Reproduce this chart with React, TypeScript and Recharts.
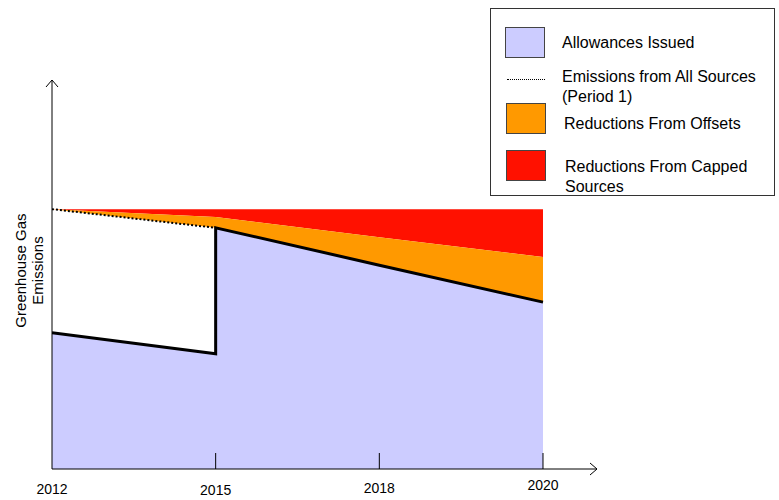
import React from 'react';
import { ComposedChart, Area, Line, XAxis, YAxis, ReferenceDot, Legend } from 'recharts';

// ---- data ----
const tickYears = ['2012', '2015', '2018', '2020'];
const tickPositions = [0, 1, 2, 3];
const rowPositions = [0, 1, 1, 2, 3]; // 2015 appears twice: the allowance cap jumps there
const allowancesIssued = [35.0, 29.6, 62.0, 52.4, 42.9];
const emissionsPeriod1: (number | null)[] = [66.8, 62.0, null, null, null];
const offsetsTop = [66.8, 64.8, 64.8, 59.6, 54.5];
const cappedTop = [66.8, 66.8, 66.8, 66.8, 66.8];

const data = rowPositions.map((x, i) => {
  const lower = emissionsPeriod1[i] ?? allowancesIssued[i];
  return {
    x,
    allowances: allowancesIssued[i],
    emissions: emissionsPeriod1[i],
    offsets: [lower, offsetsTop[i]],
    capped: [offsetsTop[i], cappedTop[i]],
  };
});

const FONT = '"Liberation Sans", Arial, Helvetica, sans-serif';
const LAVENDER = '#CCCCFF';
const ORANGE = '#FF9900';
const RED = '#FF1100';

const labelShift = [0, 1, -1.5, -4.5];

const XTick = (props: any) => {
  const { x, y, payload } = props;
  const i = tickPositions.indexOf(payload.value);
  return (
    <g>
      {payload.value !== 0 && (
        <line x1={x} x2={x} y1={y - 16} y2={y} stroke="#000" strokeWidth={1} />
      )}
      <text
        x={x}
        y={y + 25 + (labelShift[i] ?? 0)}
        textAnchor="middle"
        fontSize={14}
        fontFamily={FONT}
        fill="#000"
      >
        {tickYears[i] ?? ''}
      </text>
    </g>
  );
};

const YTitle = (props: any) => {
  const vb = props.viewBox || { x: 51, y: 80, width: 1, height: 389 };
  const axisX = vb.x + vb.width;
  const cy = vb.y + vb.height / 2 - 4;
  const x1 = axisX - 32;
  const x2 = axisX - 15;
  return (
    <g fontFamily={FONT} fontSize={15} fill="#000">
      <text x={x1} y={cy} textAnchor="middle" dominantBaseline="central" transform={`rotate(-90 ${x1} ${cy})`}>
        Greenhouse Gas
      </text>
      <text x={x2} y={cy} textAnchor="middle" dominantBaseline="central" transform={`rotate(-90 ${x2} ${cy})`}>
        Emissions
      </text>
    </g>
  );
};

const ArrowUp = (props: any) => {
  const { cx, cy } = props;
  return <path d={`M${cx - 6},${cy + 7} L${cx},${cy} L${cx + 6},${cy + 7}`} fill="none" stroke="#000" strokeWidth={1} />;
};
const ArrowRight = (props: any) => {
  const { cx, cy } = props;
  return <path d={`M${cx - 7},${cy - 6} L${cx},${cy} L${cx - 7},${cy + 6}`} fill="none" stroke="#000" strokeWidth={1} />;
};

const txtStyle = (left: number, top: number): React.CSSProperties => ({
  position: 'absolute',
  left,
  top,
  whiteSpace: 'nowrap',
  fontSize: 16,
  lineHeight: '20px',
  fontFamily: FONT,
  color: '#000',
});
const swatch = (left: number, top: number, color: string): React.CSSProperties => ({
  position: 'absolute',
  left,
  top,
  width: 40,
  height: 31,
  background: color,
  border: '1px solid #444',
  boxSizing: 'border-box',
});

const LegendBox = () => (
  <div
    style={{
      position: 'relative',
      width: 285,
      height: 188,
      border: '1px solid #333',
      boxSizing: 'border-box',
      background: '#fff',
    }}
  >
    <div style={swatch(14, 18, LAVENDER)} />
    <div style={txtStyle(71, 24)}>Allowances Issued</div>
    <div style={{ position: 'absolute', left: 16, top: 70, width: 38, borderTop: '1.5px dotted #000' }} />
    <div style={txtStyle(71, 58)}>Emissions from All Sources</div>
    <div style={txtStyle(71, 78)}>(Period 1)</div>
    <div style={swatch(15, 94, ORANGE)} />
    <div style={txtStyle(73, 105)}>Reductions From Offsets</div>
    <div style={swatch(15, 141, RED)} />
    <div style={txtStyle(74, 148)}>Reductions From Capped</div>
    <div style={txtStyle(74, 168)}>Sources</div>
  </div>
);

export default function App() {
  return (
    <div style={{ position: 'absolute', left: 0, top: 0, width: 779, height: 500, background: '#fff' }}>
      <ComposedChart
        width={779}
        height={500}
        data={data}
        margin={{ top: 80, right: 182, bottom: 0, left: 51 }}
      >
        <XAxis
          type="number"
          dataKey="x"
          domain={[0, 3.33]}
          ticks={tickPositions}
          allowDataOverflow
          height={31}
          axisLine={{ stroke: '#000', strokeWidth: 1 }}
          tickLine={false}
          tickSize={0}
          tickMargin={0}
          tick={<XTick />}
          interval={0}
        />
        <YAxis
          type="number"
          domain={[0, 100]}
          width={1}
          tick={false}
          tickLine={false}
          axisLine={{ stroke: '#000', strokeWidth: 1 }}
          allowDataOverflow
          label={<YTitle />}
        />
        <Area
          type="linear"
          dataKey="capped"
          fill={RED}
          fillOpacity={1}
          stroke="none"
          isAnimationActive={false}
          activeDot={false}
        />
        <Area
          type="linear"
          dataKey="offsets"
          fill={ORANGE}
          fillOpacity={1}
          stroke="none"
          isAnimationActive={false}
          activeDot={false}
        />
        <Area
          type="linear"
          dataKey="allowances"
          fill={LAVENDER}
          fillOpacity={1}
          stroke="#000"
          strokeWidth={3}
          isAnimationActive={false}
          activeDot={false}
        />
        <Line
          type="linear"
          dataKey="emissions"
          stroke="#000"
          strokeWidth={2}
          strokeDasharray="2 2"
          dot={false}
          activeDot={false}
          isAnimationActive={false}
        />
        <ReferenceDot x={0} y={100} r={0} shape={<ArrowUp />} ifOverflow="visible" />
        <ReferenceDot x={3.33} y={0} r={0} shape={<ArrowRight />} ifOverflow="visible" />
        <Legend
          layout="vertical"
          align="center"
          verticalAlign="middle"
          wrapperStyle={{ left: 490, top: 8, width: 285, height: 188 }}
          content={<LegendBox />}
        />
      </ComposedChart>
    </div>
  );
}
